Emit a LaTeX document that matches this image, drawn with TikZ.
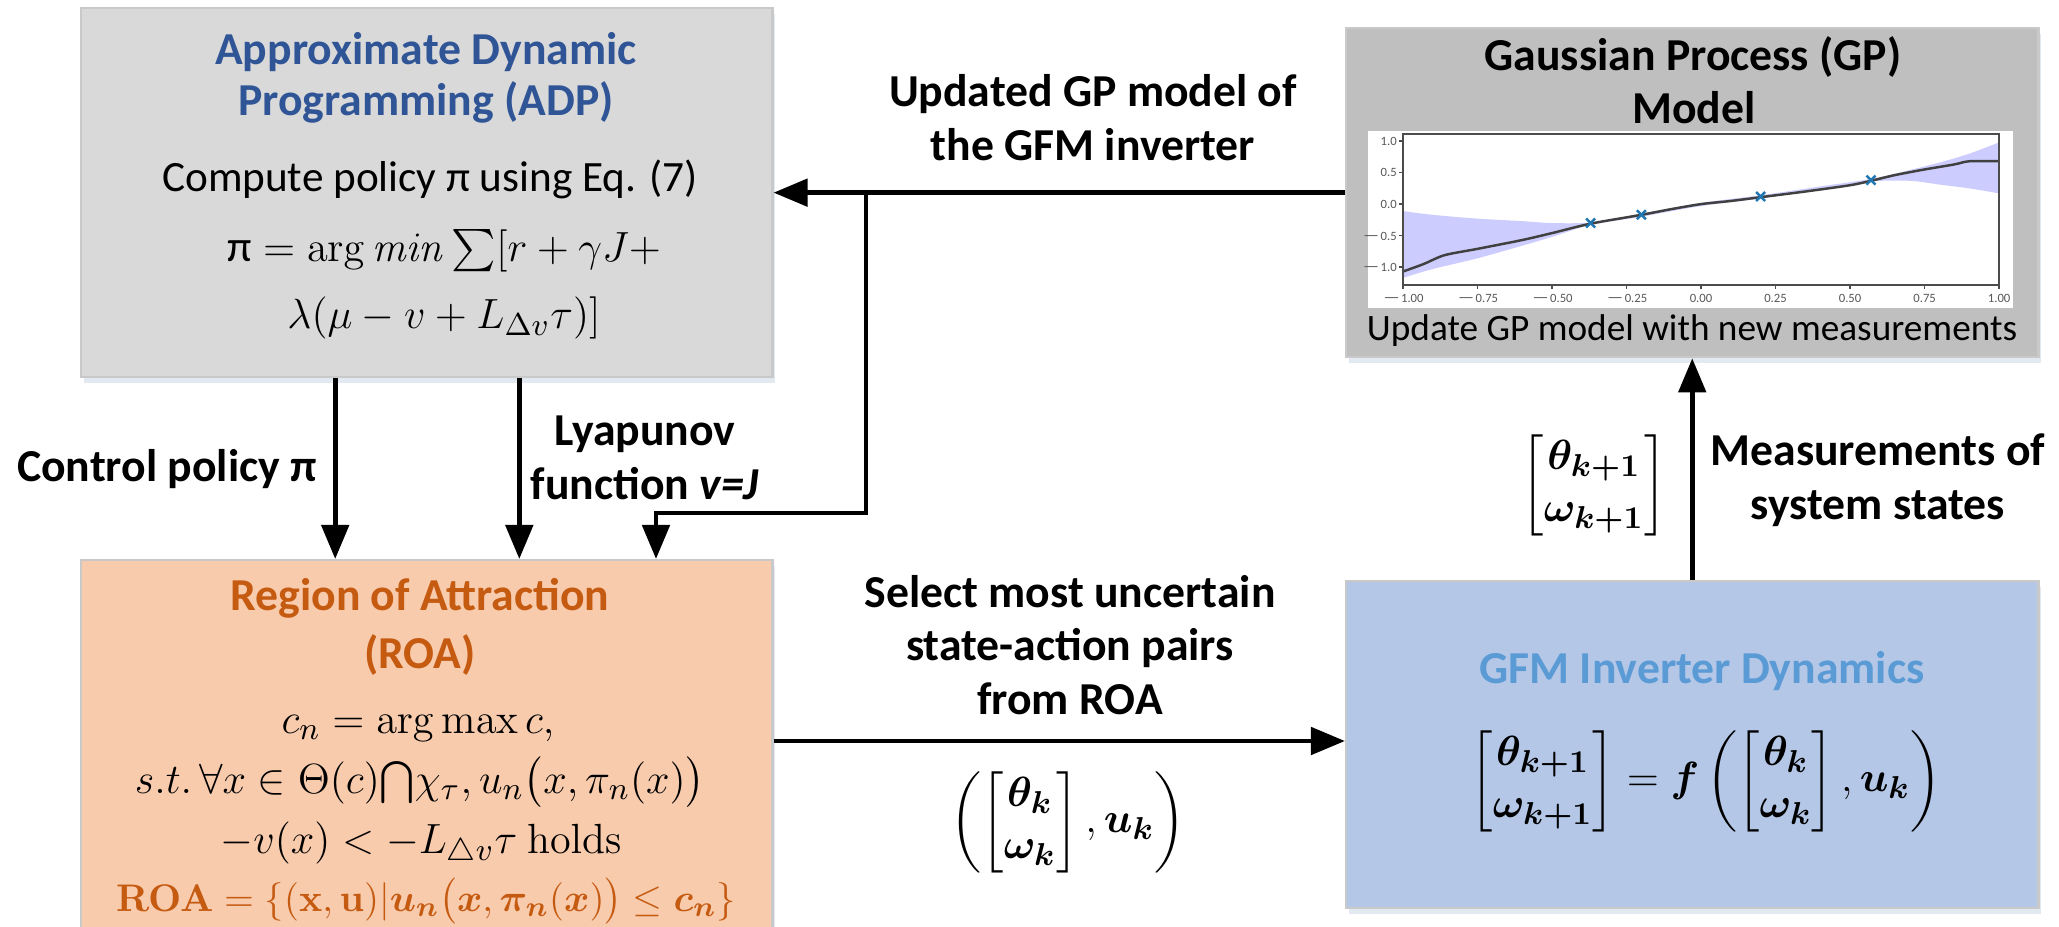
\documentclass[tikz,border=0pt]{standalone}
\usepackage{amsmath}
\usepackage[no-math]{fontspec}
\setmainfont{Carlito}
\usetikzlibrary{arrows.meta,shadows}
\definecolor{adpfill}{HTML}{D9D9D9}
\definecolor{adptitle}{HTML}{2F5597}
\definecolor{roafill}{HTML}{F8CBAD}
\definecolor{roatitle}{HTML}{C55A11}
\definecolor{gpfill}{HTML}{BFBFBF}
\definecolor{gfmfill}{HTML}{B4C7E7}
\definecolor{gfmtitle}{HTML}{5B9BD5}
\definecolor{boxline}{HTML}{C9C9C9}
\definecolor{shadowc}{HTML}{E3E9F1}
\definecolor{bandc}{HTML}{CCCCFF}
\definecolor{ptc}{HTML}{1F77B4}
\begin{document}
\begin{tikzpicture}[x=0.01cm,y=-0.01cm,
  box/.style={rectangle, draw=boxline, line width=0.6pt, inner sep=0, anchor=north west,
    drop shadow={shadow xshift=0.03cm, shadow yshift=-0.06cm, fill=shadowc, opacity=1}},
  lbl/.style={font=\fontsize{13}{15.3}\selectfont\bfseries, align=center, inner sep=0},
  ttl/.style={font=\fontsize{13}{15}\selectfont\bfseries, inner sep=0},
  txt/.style={font=\fontsize{12.3}{15}\selectfont, inner sep=0},
  eqn/.style={font=\fontsize{12.5}{15}\selectfont, inner sep=0},
  tight/.style={text height=1.6ex, text depth=0.4ex},
  conn/.style={line width=1.4pt, -{Triangle[length=0.34cm,width=0.27cm]}},
  tick/.style={font=\fontsize{3.6}{4}\selectfont, text=black!65, inner sep=0}]
\useasboundingbox (0,0) rectangle (2059,927);

% boxes
\node[box, fill=adpfill, minimum width=6.91cm, minimum height=3.69cm] (adp) at (80,7) {};
\node[box, fill=roafill, minimum width=6.91cm, minimum height=3.80cm] (roa) at (80,559) {};
\node[box, fill=gpfill, minimum width=6.92cm, minimum height=3.29cm] (gp) at (1345,27) {};
\node[box, fill=gfmfill, minimum width=6.92cm, minimum height=3.27cm] (gfm) at (1345,580) {};

% ADP content
\node[ttl, text=adptitle] (adpt1) at (426,52) {Approximate Dynamic};
\node[ttl, text=adptitle] (adpt2) at (426,102) {Programming (ADP)};
\node[txt] (adpc) at (430,179) {Compute policy π using Eq. (7)};
\node[eqn, tight] (adpe1) at (444,251) {$\mbox{π} = \mathrm{arg}\,\mathit{min}\sum[r+\gamma J+$};
\node[eqn, tight] (adpe2) at (444,318) {$\lambda(\mu - v + L_{\Delta v}\tau)]$};

% ROA content
\node[ttl, text=roatitle] (roat1) at (420,598) {Region of Attraction};
\node[ttl, text=roatitle] (roat2) at (420,655) {(ROA)};
\node[eqn, tight] (roae1) at (418,723) {$c_n = \arg\max c,$};
\node[eqn, tight] (roae2) at (420,783) {$s.t.\,\forall x\in\Theta(c){\textstyle\bigcap}\chi_\tau, u_n\bigl(x,\pi_n(x)\bigr)$};
\node[eqn, tight] (roae3) at (421,843) {$-v(x) < -L_{\triangle v}\tau\ \mathrm{holds}$};
\node[eqn, tight, font=\fontsize{10.9}{13}\selectfont, text=roatitle] (roae4) at (426,901) {$\mathbf{ROA}=\{(\mathbf{x},\mathbf{u})|\boldsymbol{u_n}\bigl(\boldsymbol{x},\boldsymbol{\pi_n}(\boldsymbol{x})\bigr)\le\boldsymbol{c_n}\}$};

% GP content
\node[ttl] (gpt1) at (1693,57) {Gaussian Process (GP)};
\node[ttl] (gpt2) at (1694,108) {Model};
\fill[white] (1368,131) rectangle (2013,308);
\begin{scope}[shift={(17cm,-2.04cm)}, x=2.98cm, y=0.63cm]
  \fill[bandc] plot[smooth] coordinates {(-1,-0.11) (-0.9,-0.17) (-0.75,-0.23) (-0.6,-0.27) (-0.5,-0.3) (-0.37,-0.29) (-0.2,-0.15) (0,0.02) (0.2,0.14) (0.4,0.28) (0.57,0.40) (0.7,0.54) (0.8,0.66) (0.9,0.80) (1,0.98)}
    -- plot[smooth] coordinates {(1,0.17) (0.9,0.25) (0.8,0.31) (0.7,0.37) (0.57,0.36) (0.4,0.24) (0.2,0.09) (0,-0.03) (-0.2,-0.2) (-0.37,-0.33) (-0.5,-0.52) (-0.6,-0.66) (-0.75,-0.86) (-0.9,-1.03) (-1,-1.17)} -- cycle;
  \draw[black!75, line width=0.7pt] plot[smooth] coordinates {(-1,-1.07) (-0.93,-0.95) (-0.86,-0.81) (-0.75,-0.71) (-0.6,-0.57) (-0.5,-0.46) (-0.37,-0.31) (-0.2,-0.17) (-0.1,-0.08) (0,0) (0.1,0.05) (0.2,0.11) (0.35,0.2) (0.5,0.3) (0.57,0.37) (0.65,0.46) (0.75,0.55) (0.85,0.63) (0.9,0.68) (1,0.68)};
  \foreach \px/\py in {-0.37/-0.3, -0.2/-0.17, 0.2/0.12, 0.57/0.38} {
    \draw[ptc, line width=0.7pt] ([shift={(-0.045cm,-0.045cm)}]\px,\py) -- ([shift={(0.045cm,0.045cm)}]\px,\py);
    \draw[ptc, line width=0.7pt] ([shift={(-0.045cm,0.045cm)}]\px,\py) -- ([shift={(0.045cm,-0.045cm)}]\px,\py);
  }
  \draw[black!70, line width=0.4pt] (-1,-1.286) rectangle (1,1.11);
  \foreach \t/\l [count=\i] in {-1/$-$1.00, -0.75/$-$0.75, -0.5/$-$0.50, -0.25/$-$0.25, 0/0.00, 0.25/0.25, 0.5/0.50, 0.75/0.75, 1/1.00} {
    \draw[black!70, line width=0.4pt] (\t,-1.286) -- (\t,-1.34);
    \node[tick] (xt\i) at (\t,-1.49) {\l};
  }
  \foreach \t/\l [count=\i] in {-1/$-$1.0, -0.5/$-$0.5, 0/0.0, 0.5/0.5, 1/1.0} {
    \draw[black!70, line width=0.4pt] (-1,\t) -- (-1.012,\t);
    \node[tick, anchor=east] (yt\i) at (-1.018,\t) {\l};
  }
\end{scope}
\node[txt, font=\fontsize{10.6}{12}\selectfont] (gpu) at (1692,331) {Update GP model with new measurements};

% GFM content
\node[ttl, text=gfmtitle] (gfmt) at (1702,671) {GFM Inverter Dynamics};
\node[eqn] (gfme) at (1706,781) {$\begin{bmatrix}\boldsymbol{\theta_{k+1}}\\ \boldsymbol{\omega_{k+1}}\end{bmatrix}=\boldsymbol{f}\left(\begin{bmatrix}\boldsymbol{\theta_k}\\ \boldsymbol{\omega_k}\end{bmatrix},\boldsymbol{u_k}\right)$};

% labels
\node[lbl] (lupd) at (1093,118) {Updated GP model of\\the GFM inverter};
\node[lbl] (lctl) at (167,469) {Control policy π};
\node[lbl] (llya) at (645,458) {Lyapunov\\function \textit{v=J}};
\node[lbl] (lsel) at (1070,645) {Select most uncertain\\state-action pairs\\from ROA};
\node[eqn] (lsele) at (1068,822) {$\left(\begin{bmatrix}\boldsymbol{\theta_k}\\ \boldsymbol{\omega_k}\end{bmatrix},\boldsymbol{u_k}\right)$};
\node[lbl] (lmea) at (1878,480) {Measurements of\\system states};
\node[eqn] (lmeae) at (1594,485) {$\begin{bmatrix}\boldsymbol{\theta_{k+1}}\\ \boldsymbol{\omega_{k+1}}\end{bmatrix}$};

% connectors
\coordinate (jx) at (866,0);
\coordinate (jn) at (jx |- gp.west);
\coordinate (c1) at (866,513);
\coordinate (c2) at (656,513);
\coordinate (sy) at (0,741);
\draw[conn] (gp.west) -- (adp.east |- gp.west);
\draw[conn] (jn) -- (c1) -- (c2) -- (c2 |- roa.north);
\draw[conn] ([xshift=-0.915cm]adp.south) -- ([xshift=-0.915cm]roa.north);
\draw[conn] ([xshift=0.925cm]adp.south) -- ([xshift=0.925cm]roa.north);
\draw[conn] (roa.east |- sy) -- (gfm.west |- sy);
\draw[conn] (gfm.north) -- (gp.south);
\end{tikzpicture}
\end{document}
